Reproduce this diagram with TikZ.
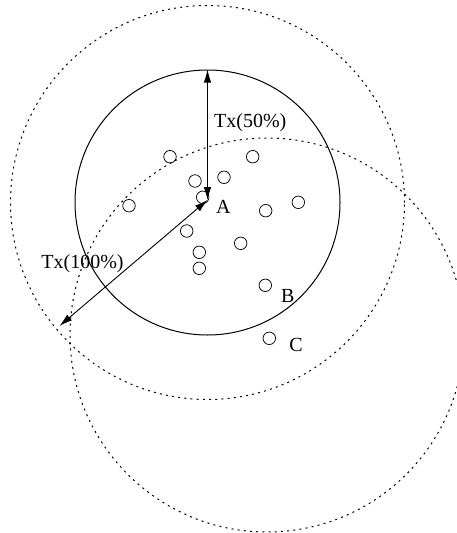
\documentclass[tikz,border=0pt]{standalone}
\usepackage{fontspec}
\setmainfont{Liberation Serif}
\usetikzlibrary{arrows.meta}
\begin{document}
\begin{tikzpicture}[x=1pt,y=-1pt,
  station/.style={circle,draw,line width=0.75pt,minimum size=12.5pt,inner sep=0pt},
  rangesolid/.style={circle,draw,line width=1pt,inner sep=0pt},
  rangedot/.style={circle,draw,line width=1pt,dash pattern=on 2pt off 4.2pt,inner sep=0pt},
  lbl/.style={font=\fontsize{20}{24}\selectfont,inner sep=0pt},
  meas/.style={line width=0.9pt,{Latex[length=13pt,width=7.5pt]}-{Latex[length=13pt,width=7.5pt]}}]
\useasboundingbox (0,0) rectangle (457,533);
\clip (0,0) rectangle (457,533);
% ranges
\coordinate (cA) at (207.5,202.5);
\coordinate (cC) at (267,335);
\node[rangesolid,minimum size=265pt] (r50) at (cA) {};
\node[rangedot,minimum size=394pt] (r100) at (cA) {};
\node[rangedot,minimum size=394pt] (rC) at (cC) {};
% stations
\node[station] (s1) at (170,156.7) {};
\node[station] (s2) at (252.7,156.7) {};
\node[station] (s3) at (195,181) {};
\node[station] (s4) at (224,177.3) {};
\node[station] (s5) at (202.7,197.3) {};
\node[station] (s6) at (129,205.7) {};
\node[station] (s7) at (265.7,210.7) {};
\node[station] (s8) at (298.3,202.3) {};
\node[station] (s9) at (186.7,231) {};
\node[station] (s10) at (240.7,243.3) {};
\node[station] (s11) at (199.3,252.3) {};
\node[station] (s12) at (199.3,268.3) {};
\node[station] (sB) at (265.3,285.3) {};
\node[station] (sC) at (269.3,338.3) {};
% labels
\node[lbl] (lA) at (223.3,206.7) {A};
\node[lbl] (lB) at (287.7,296) {B};
\node[lbl] (lC) at (296,345) {C};
\node[lbl] (l50) at (250.3,122.3) {Tx(50\%)};
\node[lbl] (l100) at (82.5,263.3) {Tx(100\%)};
% measurement arrows
\coordinate (tA) at (207.5,200);
\coordinate (t100) at (59.5,326);
\draw[meas] (tA) -- (r50.north);
\draw[meas] (tA) -- (t100);
\end{tikzpicture}
\end{document}
